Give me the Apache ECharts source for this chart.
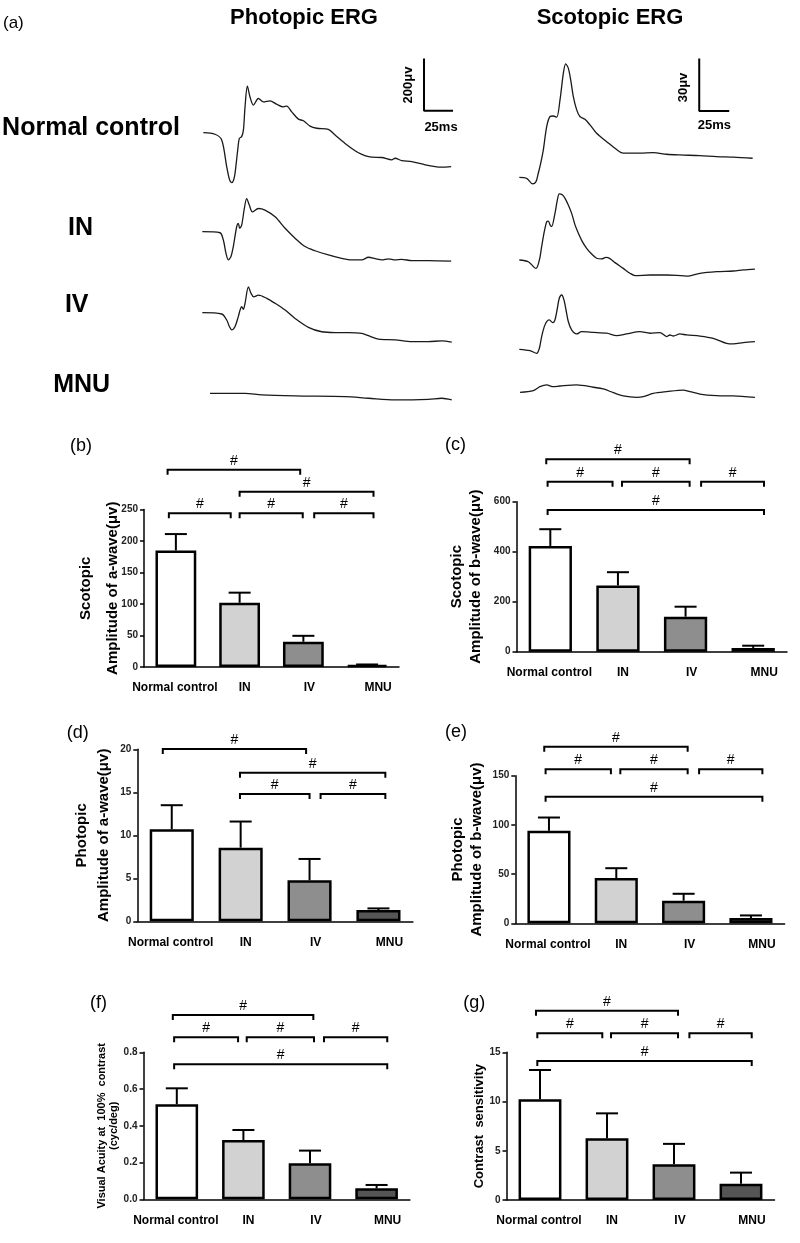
<!DOCTYPE html>
<html><head><meta charset="utf-8">
<script src="https://cdn.jsdelivr.net/npm/echarts@6/dist/echarts.min.js"></script>
<style>html,body{margin:0;padding:0;background:#fff}#c{width:800px;height:1243px}</style>
</head><body><div id="c"></div>
<script>
// ---------------- DATA ----------------
const categories = ['Normal control', 'IN', 'IV', 'MNU'];

// (b) Scotopic a-wave
const scotopicAWaveMean = [185, 102, 40, 3];
const scotopicAWaveSem  = [26, 16, 9.5, 1];
const scotopicAWaveSig  = [[-0.13, 1.95, 313], [1.0, 3.1, 278], [-0.11, 0.86, 244], [1.0, 1.99, 244], [2.17, 3.1, 244]];
// (c) Scotopic b-wave
const scotopicBWaveMean = [423, 265, 140, 15];
const scotopicBWaveSem  = [67, 53, 40, 9];
const scotopicBWaveSig  = [[-0.06, 2.06, 770], [-0.04, 0.92, 680], [1.06, 2.06, 680], [2.23, 3.16, 680], [-0.04, 3.16, 567]];
// (d) Photopic a-wave
const photopicAWaveMean = [10.7, 8.56, 4.77, 1.3];
const photopicAWaveSem  = [2.8, 3.04, 2.48, 0.2];
const photopicAWaveSig  = [[-0.13, 1.95, 20.03], [0.99, 3.1, 17.28], [0.99, 2.0, 14.8], [2.16, 3.1, 14.8]];
// (e) Photopic b-wave
const photopicBWaveMean = [94, 46, 23, 5.4];
const photopicBWaveSem  = [13.5, 10, 7, 2.6];
const photopicBWaveSig  = [[-0.07, 2.06, 179.5], [-0.05, 0.92, 156.5], [1.06, 2.06, 156.5], [2.23, 3.17, 156.5], [-0.05, 3.17, 128.7]];
// (f) Visual acuity
const visualAcuityMean = [0.517, 0.323, 0.196, 0.06];
const visualAcuitySem  = [0.087, 0.054, 0.069, 0.018];
const visualAcuitySig  = [[-0.06, 2.05, 1.003], [-0.04, 0.92, 0.882], [1.05, 2.06, 0.882], [2.21, 3.16, 0.882], [-0.04, 3.16, 0.735]];
// (g) Contrast sensitivity
const contrastMean = [10.23, 6.27, 3.63, 1.66];
const contrastSem  = [2.97, 2.53, 2.07, 1.12];
const contrastSig  = [[-0.06, 2.06, 19.22], [-0.04, 0.93, 16.93], [1.06, 2.06, 16.93], [2.23, 3.16, 16.93], [-0.04, 3.16, 14.12]];

// (a) ERG traces: [time ms, amplitude µV relative to start]
const photopicNC = [[2.9,0],[12.9,-6],[18.7,-28],[23.0,-130],[25.3,-178],[27.3,-191],[29.0,-181],[30.2,-155],[32.5,-66],[33.9,-22],[35.9,-15],[37.4,10],[38.8,99],[40.8,178],[43.1,137],[46.0,106],[50.3,131],[54.6,118],[60.3,122],[66.1,109],[71.8,99],[74.7,102],[79.0,80],[84.8,52],[89.1,46],[94.8,25],[100.6,17],[110.6,13],[116.4,-9],[125.0,-41],[133.6,-69],[139.4,-83],[148.0,-94],[156.6,-95],[165.2,-104],[168.1,-98],[173.8,-107],[182.5,-111],[194.0,-123],[202.6,-130],[208.3,-132],[216.4,-130]];
const photopicIN = [[2.0,0],[17.2,-4],[20.1,-32],[22.4,-83],[24.4,-108],[26.7,-95],[28.7,-57],[31.6,19],[33.0,32],[34.2,13],[35.9,25],[38.2,89],[40.2,127],[42.5,102],[45.1,76],[50.3,89],[56.0,83],[64.7,57],[73.3,13],[81.9,-25],[90.5,-57],[99.1,-73],[110.6,-89],[122.1,-102],[130.7,-108],[139.4,-108],[145.1,-98],[150.9,-103],[156.6,-108],[162.4,-104],[168.1,-108],[173.8,-106],[182.5,-111],[196.8,-111],[216.4,-113]];
const photopicIV = [[2.0,0],[18.7,-5],[23.0,-28],[25.3,-53],[27.3,-66],[30.2,-53],[33.0,-15],[34.5,10],[35.9,23],[37.4,13],[38.8,36],[41.7,99],[44.0,74],[46.3,61],[50.3,67],[57.5,55],[64.7,36],[73.3,10],[81.9,-22],[93.4,-56],[104.9,-73],[116.4,-76],[127.9,-76],[139.4,-79],[145.1,-88],[153.7,-101],[168.1,-104],[182.5,-111],[196.8,-111],[208.3,-108],[216.9,-113]];
const photopicMNU = [[8.6,0],[38.8,0],[53.2,-6],[81.9,-10],[125.0,-13],[145.1,-19],[168.1,-25],[196.8,-23],[208.3,-19],[216.9,-25]];

const scotopicNC = [[3.6,0],[9.7,-0.6],[14.7,-3.8],[17.5,-2.5],[19.4,2.3],[21.4,8.0],[23.6,15.7],[26.4,29.0],[29.2,34.8],[31.9,35.1],[34.7,34.4],[37.5,44.3],[40.3,59.6],[42.2,64.9],[44.4,62.5],[46.4,55.8],[48.6,46.2],[51.4,38.6],[54.1,34.8],[58.3,33.2],[62.5,30.0],[68.0,25.2],[76.4,20.4],[83.3,16.6],[90.2,13.8],[104.1,13.8],[115.2,14.1],[126.3,13.2],[137.4,12.8],[154.1,12.4],[168.0,11.8],[181.9,11.5],[198.0,10.9]];
const scotopicIN = [[3.6,0],[11.1,-1.0],[17.5,-4.8],[20.3,0],[22.2,7.6],[24.4,16.2],[26.4,21.9],[27.8,22.3],[29.2,20.1],[30.5,19.1],[33.3,26.7],[35.3,34.4],[36.9,37.8],[39.4,37.3],[41.7,35.3],[44.4,31.5],[47.2,26.7],[50.0,20.1],[52.8,15.3],[56.1,10.5],[59.7,6.7],[63.9,3.4],[68.0,1.0],[72.2,0.6],[75.8,1.5],[79.1,0.8],[83.3,-1.5],[90.2,-4.8],[95.8,-7.6],[100.0,-8.9],[112.5,-8.6],[126.3,-8.6],[134.7,-8.8],[143.0,-9.2],[154.1,-7.6],[168.0,-6.7],[181.9,-6.3],[190.2,-5.7],[199.9,-5.2]];
const scotopicIV = [[3.6,0],[12.5,-0.8],[18.1,-2.3],[20.3,0.6],[22.2,7.3],[24.4,13.0],[26.4,15.9],[28.6,16.8],[31.4,15.3],[33.3,16.8],[35.3,23.5],[36.9,29.2],[38.9,31.1],[40.8,28.3],[42.5,22.5],[44.4,15.9],[47.2,11.1],[51.4,8.8],[55.5,10.1],[65.3,9.7],[76.4,9.2],[84.7,7.8],[93.0,8.8],[104.1,10.1],[112.5,9.2],[120.8,9.6],[126.3,7.3],[129.1,8.2],[131.9,7.6],[137.4,8.8],[143.0,8.2],[154.1,7.6],[165.2,6.3],[176.3,3.4],[181.9,3.1],[190.2,3.8],[199.9,4.4]];
const scotopicMNU = [[4.2,0],[15.3,1.0],[20.8,3.2],[26.4,4.2],[31.9,3.2],[37.5,3.6],[51.4,4.2],[65.3,2.9],[73.6,1.9],[81.9,-0.2],[90.2,-2.1],[101.4,-2.9],[106.9,-2.5],[115.2,-0.6],[126.3,0.4],[140.2,1.3],[145.8,0.4],[154.1,-1.0],[168.0,-1.9],[181.9,-2.1],[199.9,-2.9]];

// scale bars (axis units of the Normal-control trace panels)
const photopicScaleBar = {t: 193, v: 84, dt: 25, dv: 200};
const scotopicScaleBar = {t: 153.5, v: 38, dt: 25, dv: 30};

// ---------------- STYLE / LAYOUT ----------------
const FONT = '"Liberation Sans", Arial, sans-serif';
const barColors = ['#ffffff', '#d2d2d2', '#8e8e8e', '#555555'];
const catOffsets = [-1, 5, 6, 11];

const panels = [
  {mean: scotopicAWaveMean, sem: scotopicAWaveSem, sig: scotopicAWaveSig, grid: {left: 144, top: 509.5, width: 255, height: 157.5}, max: 250, interval: 50, name: 'Scotopic\nAmplitude of a-wave(μv)', nameSize: 15, lineHeight: 27, nameGap: 17.5, tag: '(b)', tagPos: [70, 446]},
  {mean: scotopicBWaveMean, sem: scotopicBWaveSem, sig: scotopicBWaveSig, grid: {left: 516.5, top: 501.7, width: 270.5, height: 150}, max: 600, interval: 200, name: 'Scotopic\nAmplitude of b-wave(μv)', nameSize: 15, lineHeight: 19, nameGap: 31, tag: '(c)', tagPos: [445, 445]},
  {mean: photopicAWaveMean, sem: photopicAWaveSem, sig: photopicAWaveSig, grid: {left: 137.3, top: 749.3, width: 275.6, height: 172}, max: 20, interval: 5, name: 'Photopic\nAmplitude of a-wave(μv)', nameSize: 15, lineHeight: 22.5, nameGap: 22, tag: '(d)', tagPos: [66.7, 733.3]},
  {mean: photopicBWaveMean, sem: photopicBWaveSem, sig: photopicBWaveSig, grid: {left: 515.3, top: 775.7, width: 269.3, height: 147.6}, max: 150, interval: 50, name: 'Photopic\nAmplitude of b-wave(μv)', nameSize: 15, lineHeight: 18.5, nameGap: 29.5, tag: '(e)', tagPos: [445, 731.7]},
  {mean: visualAcuityMean, sem: visualAcuitySem, sig: visualAcuitySig, grid: {left: 143.5, top: 1052.3, width: 266.4, height: 147}, max: 0.8, interval: 0.2, decimals: 1, name: 'Visual Acuity at  100%  contrast\n(cyc/deg)', nameSize: 11, lineHeight: 11.6, nameGap: 24, tag: '(f)', tagPos: [90, 1003.3]},
  {mean: contrastMean, sem: contrastSem, sig: contrastSig, grid: {left: 506.5, top: 1052.3, width: 268, height: 147.7}, max: 15, interval: 5, name: 'Contrast  sensitivity', nameSize: 13, lineHeight: 15, nameGap: 20, tag: '(g)', tagPos: [463.3, 1003.3]}
];

const traces = [
  {data: photopicNC, col: 'p', base: 132.7, bar: photopicScaleBar},
  {data: photopicIN, col: 'p', base: 231.7},
  {data: photopicIV, col: 'p', base: 312.7},
  {data: photopicMNU, col: 'p', base: 393.3},
  {data: scotopicNC, col: 's', base: 177.3, bar: scotopicScaleBar},
  {data: scotopicIN, col: 's', base: 260},
  {data: scotopicIV, col: 's', base: 349.3},
  {data: scotopicMNU, col: 's', base: 392.3}
];
// column geometry: ms per px and µV per px from the scale bars
const cols = {
  p: {left: 200, width: 260, tMax: 224, vMin: -230, vMax: 230, vPerPx: 3.833},
  s: {left: 515, width: 250, tMax: 208.3, vMin: -12, vMax: 68, vPerPx: 0.5725}
};

const texts = [
  {t: '(a)', x: 3, y: 23, size: 17, weight: 'normal', align: 'left'},
  {t: 'Photopic ERG', x: 304, y: 18, size: 22, weight: 'bold'},
  {t: 'Scotopic ERG', x: 610, y: 18, size: 22, weight: 'bold'},
  {t: 'Normal control', x: 91, y: 128.3, size: 25, weight: 'bold'},
  {t: 'IN', x: 80.5, y: 228.3, size: 25, weight: 'bold'},
  {t: 'IV', x: 76.7, y: 305, size: 25, weight: 'bold'},
  {t: 'MNU', x: 81.7, y: 385, size: 25, weight: 'bold'},
  {t: '25ms', x: 441, y: 127.5, size: 13, weight: 'bold'},
  {t: '25ms', x: 714.3, y: 125.3, size: 13, weight: 'bold'},
  {t: '200μv', x: 408.3, y: 85, size: 13, weight: 'bold', rot: true},
  {t: '30μv', x: 683, y: 87.5, size: 13, weight: 'bold', rot: true}
];

// ---------------- BUILD ----------------
const option = {animation: false, backgroundColor: '#fff', textStyle: {fontFamily: FONT},
  grid: [], xAxis: [], yAxis: [], series: [], graphic: []};

const rich = {};
catOffsets.forEach((o, i) => {
  rich['c' + i] = {fontFamily: FONT, fontSize: 12, fontWeight: 'bold', color: '#000',
    padding: o >= 0 ? [0, 0, 0, 2 * o] : [0, -2 * o, 0, 0]};
});

function renderErr(params, api) {
  const x = api.value(0);
  const lo = api.coord([x, api.value(1)]);
  const hi = api.coord([x, api.value(2)]);
  const cap = 11;
  return {type: 'group', children: [
    {type: 'line', shape: {x1: lo[0], y1: lo[1], x2: hi[0], y2: hi[1]}, style: {stroke: '#000', lineWidth: 2}},
    {type: 'line', shape: {x1: hi[0] - cap, y1: hi[1], x2: hi[0] + cap, y2: hi[1]}, style: {stroke: '#000', lineWidth: 2}}
  ]};
}
function renderBracket(params, api) {
  const a = api.coord([api.value(0), api.value(2)]);
  const b = api.coord([api.value(1), api.value(2)]);
  return {type: 'group', children: [
    {type: 'polyline', shape: {points: [[a[0], a[1] + 5], [a[0], a[1]], [b[0], b[1]], [b[0], b[1] + 5]]},
      style: {stroke: '#000', lineWidth: 2, fill: null}},
    {type: 'text', x: (a[0] + b[0]) / 2, y: a[1] - 9,
      style: {text: '#', font: '14px ' + FONT, fill: '#000', align: 'center', verticalAlign: 'middle', textAlign: 'center', textVerticalAlign: 'middle'}}
  ]};
}

panels.forEach(p => {
  const g = option.grid.length;
  option.grid.push(Object.assign({containLabel: false, outerBoundsMode: 'none'}, p.grid));
  const xCat = option.xAxis.length;
  option.xAxis.push({type: 'category', gridIndex: g, data: categories,
    axisLine: {onZero: false, lineStyle: {color: '#000', width: 1.5}},
    axisTick: {alignWithLabel: true, length: 5, lineStyle: {color: '#000', width: 1.5}},
    axisLabel: {margin: 15, interval: 0, formatter: (v, i) => '{c' + i + '|' + v + '}', rich: rich}});
  const xVal = option.xAxis.length;
  option.xAxis.push({type: 'value', gridIndex: g, min: -0.5, max: 3.5, show: false, axisLine: {onZero: false}});
  const yi = option.yAxis.length;
  option.yAxis.push({type: 'value', gridIndex: g, min: 0, max: p.max, interval: p.interval,
    splitLine: {show: false},
    axisLine: {show: true, onZero: false, lineStyle: {color: '#000', width: 1.5}},
    axisTick: {show: true, length: 4, lineStyle: {color: '#000', width: 1.5}},
    axisLabel: {margin: 6, fontSize: 10, fontWeight: 'bold', color: '#222', fontFamily: FONT,
      formatter: v => p.decimals ? v.toFixed(p.decimals) : String(v)},
    name: p.name, nameLocation: 'middle', nameRotate: 90, nameGap: p.nameGap, nameMoveOverlap: false,
    nameTextStyle: {fontSize: p.nameSize, fontWeight: 'bold', color: '#000', lineHeight: p.lineHeight, fontFamily: FONT}});
  option.series.push({type: 'bar', xAxisIndex: xCat, yAxisIndex: yi, barWidth: '64%',
    data: p.mean.map((v, i) => ({value: v, itemStyle: {color: barColors[i]}})),
    itemStyle: {borderColor: '#000', borderWidth: 2.5}, silent: true});
  option.series.push({type: 'custom', xAxisIndex: xCat, yAxisIndex: yi, z: 5, silent: true,
    data: p.mean.map((m, i) => [i, m, m + p.sem[i]]), encode: {x: 0, y: [1, 2]}, renderItem: renderErr});
  option.series.push({type: 'custom', xAxisIndex: xVal, yAxisIndex: yi, z: 5, silent: true, clip: false,
    data: p.sig, encode: {x: [0, 1], y: 2}, renderItem: renderBracket});
  option.graphic.push({type: 'text', x: p.tagPos[0], y: p.tagPos[1],
    style: {text: p.tag, font: '18px ' + FONT, fill: '#000', align: 'left', verticalAlign: 'middle', textAlign: 'left', textVerticalAlign: 'middle'}});
});

traces.forEach(tr => {
  const c = cols[tr.col];
  const g = option.grid.length;
  const top = tr.base - c.vMax / c.vPerPx;
  const height = (c.vMax - c.vMin) / c.vPerPx;
  option.grid.push({left: c.left, top: top, width: c.width, height: height, containLabel: false, outerBoundsMode: 'none'});
  const xi = option.xAxis.length, yi = option.yAxis.length;
  option.xAxis.push({type: 'value', gridIndex: g, min: 0, max: c.tMax, show: false});
  option.yAxis.push({type: 'value', gridIndex: g, min: c.vMin, max: c.vMax, show: false});
  option.series.push({type: 'line', xAxisIndex: xi, yAxisIndex: yi, data: tr.data, symbol: 'none', smooth: 0.3,
    clip: false, silent: true, lineStyle: {color: '#1a1a1a', width: 1.3}});
  if (tr.bar) {
    const b = tr.bar;
    option.series.push({type: 'line', xAxisIndex: xi, yAxisIndex: yi, symbol: 'none', clip: false, silent: true,
      data: [[b.t, b.v + b.dv], [b.t, b.v], [b.t + b.dt, b.v]], lineStyle: {color: '#000', width: 2}});
  }
});

texts.forEach(t => {
  option.graphic.push({type: 'text', x: t.x, y: t.y, rotation: t.rot ? Math.PI / 2 : 0,
    style: {text: t.t, font: t.weight + ' ' + t.size + 'px ' + FONT, fill: '#000',
      align: t.align || 'center', verticalAlign: 'middle', textAlign: t.align || 'center', textVerticalAlign: 'middle'}});
});

const chart = echarts.init(document.getElementById('c'), null, {renderer: 'canvas'});
chart.setOption(option);
</script></body></html>
